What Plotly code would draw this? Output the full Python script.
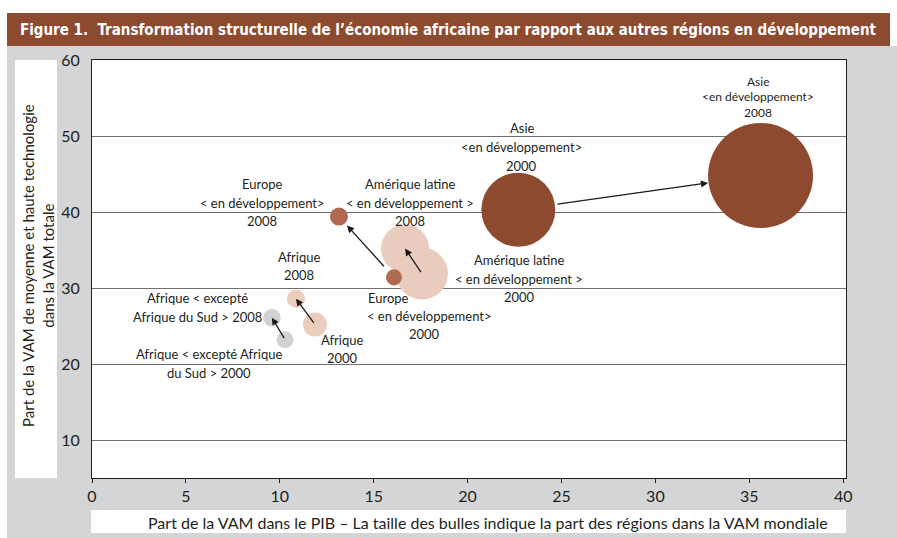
import plotly.graph_objects as go

# ---------------- data ----------------
regions = ["Afrique < excepté Afrique du Sud >", "Afrique", "Amérique latine", "Europe", "Asie"]
x2000 = [10.28, 11.87, 17.57, 16.08, 22.7]
y2000 = [23.2, 25.2, 31.9, 31.4, 40.3]
x2008 = [9.58, 10.86, 16.67, 13.15, 35.6]
y2008 = [26.1, 28.6, 35.2, 39.4, 44.8]
share2000 = [0.65, 1.30, 6.1, 0.58, 12.3]
share2008 = [0.70, 0.75, 5.2, 0.73, 24.8]
colors = ["#D1D2D4", "#EBCDBE", "#E9CCBE", "#AF6A51", "#8E4A2E"]

x_ticks = [0, 5, 10, 15, 20, 25, 30, 35, 40]
y_ticks = [10, 20, 30, 40, 50, 60]

title_text = "Figure 1.  Transformation structurelle de l’économie africaine par rapport aux autres régions en développement"
ytitle = "Part de la VAM de moyenne et haute technologie<br>dans la VAM totale"
xtitle = "Part de la VAM dans le PIB – La taille des bulles indique la part des régions dans la VAM mondiale"

FONT = "Lato"
W, H = 897, 538
L, R, T, B = 92, 51, 60, 60
PW, PH = W - L - R, H - T - B


def px(p):
    return (p - L) / PW


def py(q):
    return (H - B - q) / PH


fig = go.Figure()

# light bubbles first, dark on top
order = [2, 1, 0, 3, 4]
xs, ys, ss, cs = [], [], [], []
for i in order:
    xs += [x2000[i], x2008[i]]
    ys += [y2000[i], y2008[i]]
    ss += [share2000[i], share2008[i]]
    cs += [colors[i], colors[i]]

fig.add_trace(go.Scatter(
    x=xs, y=ys, mode="markers",
    marker=dict(size=ss, sizemode="area", sizeref=0.0045, color=cs,
                line=dict(width=0), opacity=1),
    hoverinfo="skip", showlegend=False, cliponaxis=False,
))

# arrows 2000 -> 2008 (standoffs in px)
start_off = [0, 0, 0, 13, 38]
end_off = [0, 0, 0, 12, 53]
annotations = []
for i in range(len(regions)):
    annotations.append(dict(
        x=x2008[i], y=y2008[i], ax=x2000[i], ay=y2000[i],
        xref="x", yref="y", axref="x", ayref="y",
        showarrow=True, arrowhead=2, arrowsize=1.1, arrowwidth=1.3,
        arrowcolor="#1a1a1a", standoff=end_off[i], startstandoff=start_off[i], text="",
    ))

# labels: (lines, centre x px, first-line y px, line spacing px, font size)
labels = [
    (["Europe", "< en développement>", "2008"], [262, 262, 262], 184, 18.5, 13),
    (["Amérique latine", "< en développement >", "2008"], [410, 410, 410], 184, 18.5, 13),
    (["Afrique", "2008"], [299, 299], 257, 18, 13),
    (["Afrique < excepté", "Afrique du Sud > 2008"], [197, 197], 298, 19, 13),
    (["Afrique < excepté Afrique", "du Sud > 2000"], [209, 209], 354, 19, 13),
    (["Afrique", "2000"], [342, 342], 340, 17.5, 13),
    (["Europe", "< en développement>", "2000"], [388, 429, 424], 298, 18, 13),
    (["Amérique latine", "< en développement >", "2000"], [519, 519, 519], 260, 18.5, 13),
    (["Asie", "<en développement>", "2000"], [522, 521, 521], 128, 19, 13),
    (["Asie", "<en développement>", "2008"], [758, 758, 758], 81, 15.5, 12),
]
for lines, xps, y0, dy, fs in labels:
    for k, (t, xp) in enumerate(zip(lines, xps)):
        annotations.append(dict(
            x=px(xp), y=py(y0 + k * dy), xref="paper", yref="paper", text=t, showarrow=False,
            xanchor="center", yanchor="middle", align="center",
            font=dict(family=FONT, size=fs, color="#231f20"),
        ))

# title
annotations.append(dict(
    x=px(18), y=py(30), xref="paper", yref="paper", text="<b>" + title_text + "</b>",
    showarrow=False, xanchor="left", yanchor="middle",
    font=dict(family="DejaVu Sans Condensed, Lato", size=15, color="white"),
))
# y title
annotations.append(dict(
    x=px(38), y=py(266), xref="paper", yref="paper", text=ytitle, textangle=-90,
    showarrow=False, xanchor="center", yanchor="middle", align="center",
    font=dict(family=FONT, size=15, color="#231f20"),
))
# x title
annotations.append(dict(
    x=px(488), y=py(522), xref="paper", yref="paper", text=xtitle,
    showarrow=False, xanchor="center", yanchor="middle",
    font=dict(family=FONT, size=16, color="#231f20"),
))

shapes = [
    dict(type="rect", xref="paper", yref="paper", x0=px(7), x1=px(897), y0=py(46), y1=py(538),
         fillcolor="#D4D5D7", line=dict(width=0), layer="below"),
    dict(type="rect", xref="paper", yref="paper", x0=px(7), x1=px(890), y0=py(13), y1=py(46),
         fillcolor="#8C4A2F", line=dict(width=0), layer="below"),
    dict(type="rect", xref="paper", yref="paper", x0=px(15), x1=px(57), y0=py(60), y1=py(478),
         fillcolor="white", line=dict(width=0), layer="below"),
    dict(type="rect", xref="paper", yref="paper", x0=px(91), x1=px(846), y0=py(510), y1=py(533),
         fillcolor="white", line=dict(width=0), layer="below"),
    dict(type="rect", xref="paper", yref="paper", x0=0, x1=1, y0=0, y1=1,
         fillcolor="white", line=dict(width=0), layer="below"),
]

fig.update_layout(
    width=W, height=H,
    margin=dict(l=L, r=R, t=T, b=B),
    paper_bgcolor="white", plot_bgcolor="white",
    showlegend=False,
    annotations=annotations, shapes=shapes,
    xaxis=dict(range=[0, 40.15], tickvals=x_ticks, ticktext=[str(v) for v in x_ticks],
               showgrid=False, zeroline=False, showline=True, linecolor="#231f20", linewidth=1,
               mirror=True, ticks="outside", ticklen=4, tickcolor="#231f20",
               tickfont=dict(family=FONT, size=16, color="#231f20"), fixedrange=True),
    yaxis=dict(range=[5, 60], tickvals=y_ticks, ticktext=[str(v) for v in y_ticks],
               showgrid=True, gridcolor="#6f6f6f", gridwidth=1, zeroline=False,
               showline=True, linecolor="#231f20", linewidth=1, mirror=True,
               ticks="", ticklabelstandoff=8,
               tickfont=dict(family=FONT, size=16, color="#231f20"), fixedrange=True),
)

fig.write_html("out.html", config={"displayModeBar": False},
               post_script="document.body.style.margin='0';document.body.style.padding='0';")
